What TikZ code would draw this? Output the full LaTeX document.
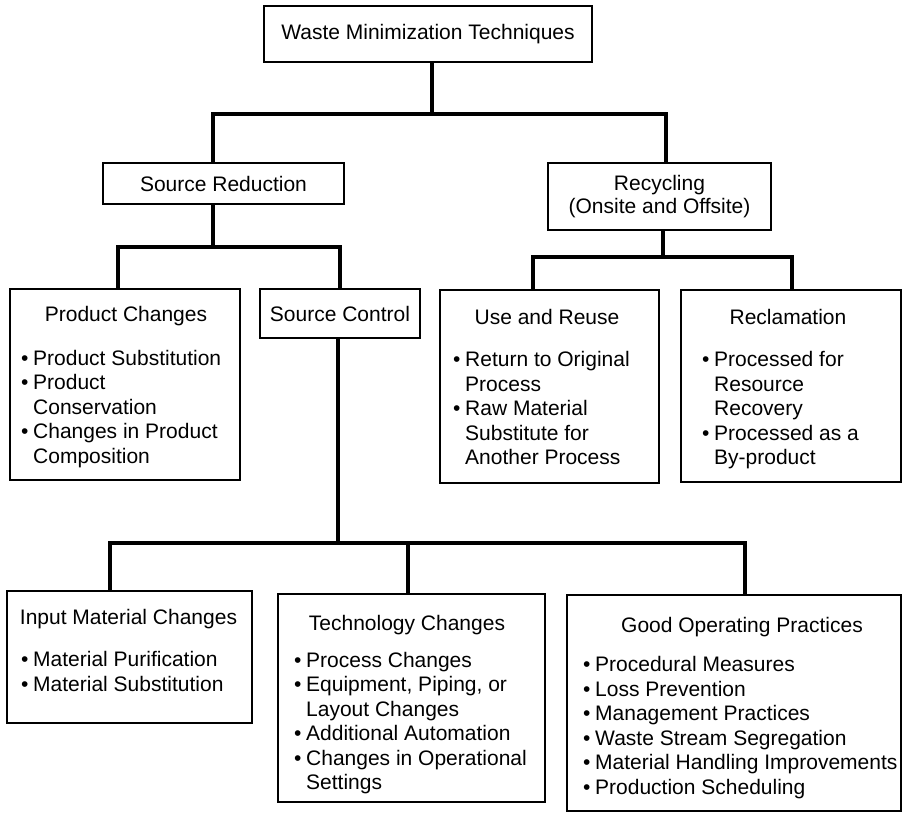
\documentclass[tikz,border=0pt]{standalone}
\usepackage{fontspec}
\setmainfont{Liberation Sans}
\newcommand{\bul}{\makebox[12pt][l]{•}}
\newcommand{\ind}{\hspace*{12pt}}
\tikzset{
  box/.style={draw, line width=2.4pt, inner sep=0pt, font=\fontsize{21}{23}\selectfont, align=center},
  conn/.style={line width=3.4pt},
  txt/.style={inner sep=0pt, font=\fontsize{21}{24.5}\selectfont},
  txtline/.style={txt, anchor=base west},
  ttl/.style={txt, anchor=base},
}
\newcommand{\blines}[5]{%
  \foreach \t [count=\i] in {#5} {\node[txtline] (#1\i) at (#2, #3 + #4*\i - #4) {\t};}}
\begin{document}
\begin{tikzpicture}[x=1pt,y=-1pt]
\useasboundingbox (0,0) rectangle (903,813);

% boxes
\node[box, minimum width=328pt, minimum height=56pt] (wmt) at (428,34) {Waste Minimization Techniques};
\node[box, minimum width=241pt, minimum height=41pt] (sr) at (223.5,183.5) {Source Reduction};
\node[box, minimum width=223pt, minimum height=67pt] (rec) at (659.5,196.5) {Recycling\\(Onsite and Offsite)};
\node[box, minimum width=230pt, minimum height=191pt] (pc) at (125,384.5) {};
\node[box, minimum width=160pt, minimum height=49pt] (sc) at (340,313.5) {Source Control};
\node[box, minimum width=219pt, minimum height=193pt] (ur) at (549.5,386.5) {};
\node[box, minimum width=220pt, minimum height=192pt] (rc) at (791,386) {};
\node[box, minimum width=245pt, minimum height=132pt] (imc) at (129.5,657) {};
\node[box, minimum width=267pt, minimum height=208pt] (tc) at (411.5,698) {};
\node[box, minimum width=334pt, minimum height=216pt] (gop) at (734,703) {};

% connectors
\coordinate (j0) at (432,114); \coordinate (j0l) at (213,114); \coordinate (j0r) at (666,114);
\draw[conn] (wmt.south -| j0) -- (j0);
\draw[conn] (sr.north -| j0l) |- (j0r) -- (rec.north -| j0r);

\coordinate (j1) at (213,247); \coordinate (j1l) at (118,247); \coordinate (j1r) at (340,247);
\draw[conn] (sr.south -| j1) -- (j1);
\draw[conn] (pc.north -| j1l) |- (j1r) -- (sc.north -| j1r);

\coordinate (j2) at (663,257); \coordinate (j2l) at (533,257); \coordinate (j2r) at (792,257);
\draw[conn] (rec.south -| j2) -- (j2);
\draw[conn] (ur.north -| j2l) |- (j2r) -- (rc.north -| j2r);

\coordinate (j3) at (338,543); \coordinate (j3l) at (110,543); \coordinate (j3m) at (408,543); \coordinate (j3r) at (745,543);
\draw[conn] (sc.south -| j3) -- (j3);
\draw[conn] (imc.north -| j3l) |- (j3r) -- (gop.north -| j3r);
\draw[conn] (j3m) -- (tc.north -| j3m);

% texts
\node[ttl] (pct) at (126,322) {Product Changes};
\blines{pcl}{21}{365.5}{24.4}{{\bul Product Substitution},{\bul Product},{\ind Conservation},{\bul Changes in Product},{\ind Composition}}

\node[ttl] (urt) at (547,324.5) {Use and Reuse};
\blines{url}{453}{366.5}{24.5}{{\bul Return to Original},{\ind Process},{\bul Raw Material},{\ind Substitute for},{\ind Another Process}}

\node[ttl] (rct) at (788,324.5) {Reclamation};
\blines{rcl}{702}{366.5}{24.5}{{\bul Processed for},{\ind Resource},{\ind Recovery},{\bul Processed as a},{\ind By-product}}

\node[ttl] (imct) at (128.5,624.5) {Input Material Changes};
\blines{imcl}{21}{666.5}{24.5}{{\bul Material Purification},{\bul Material Substitution}}

\node[ttl] (tct) at (407,630.5) {Technology Changes};
\blines{tcl}{294}{667.5}{24.4}{{\bul Process Changes},{\bul Equipment, Piping, or},{\ind Layout Changes},{\bul Additional Automation},{\bul Changes in Operational},{\ind Settings}}

\node[ttl] (gopt) at (742,632.5) {Good Operating Practices};
\blines{gopl}{583}{671.5}{24.6}{{\bul Procedural Measures},{\bul Loss Prevention},{\bul Management Practices},{\bul Waste Stream Segregation},{\bul Material Handling Improvements},{\bul Production Scheduling}}
\end{tikzpicture}
\end{document}
